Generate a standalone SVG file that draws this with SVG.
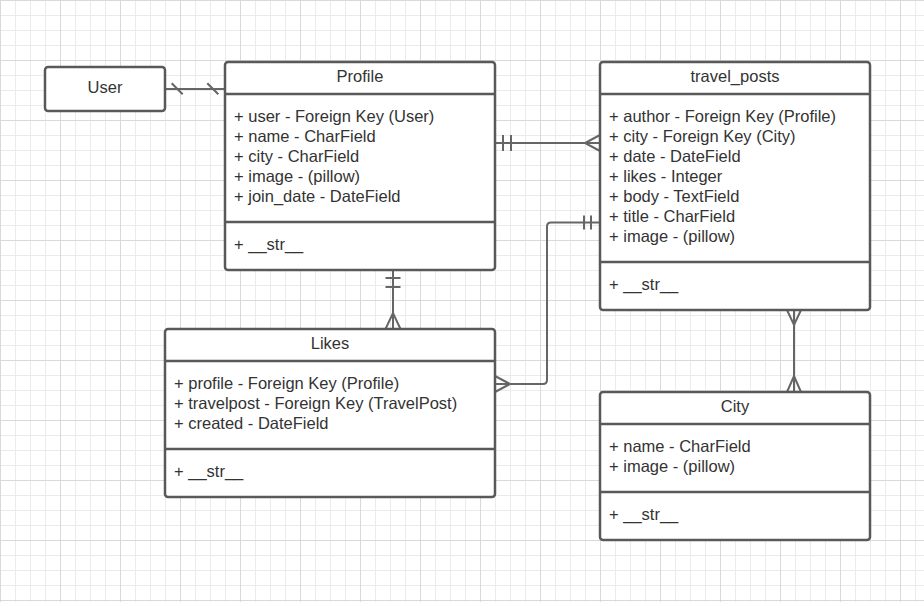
<svg xmlns="http://www.w3.org/2000/svg" width="924" height="602" viewBox="0 0 924 602">
  <defs>
    <pattern id="grid" width="60" height="60" patternUnits="userSpaceOnUse">
      <path d="M15.5 0V60M30.5 0V60M45.5 0V60M0 15.5H60M0 30.5H60M0 45.5H60" stroke="#ebebeb" stroke-width="1" fill="none"/>
      <path d="M0.5 0V60M0 0.5H60" stroke="#d9d9d9" stroke-width="1" fill="none"/>
    </pattern>
    <style>
      .box{fill:#ffffff;stroke:#595959;stroke-width:2.5}
      .div{stroke:#595959;stroke-width:2.5;fill:none}
      .t{font-family:"Liberation Sans",Arial,sans-serif;font-size:16.5px;fill:#333333}
      .c{text-anchor:middle}
      .con{stroke:#666666;stroke-width:2;fill:none}
    </style>
  </defs>
  <rect width="924" height="602" fill="#ffffff"/>
  <rect width="924" height="602" fill="url(#grid)"/>

  <g id="connectors">
    <!-- User - Profile -->
    <path class="con" d="M165 89H225"/>
    <path class="con" d="M171.7 83.3L182.7 94.3M207.3 83.3L218.3 94.3"/>
    <!-- Profile - travel_posts -->
    <path class="con" d="M495 143H600"/>
    <path class="con" d="M503 135V151M511 135V151"/>
    <path class="con" d="M600 135L585 143L600 151"/>
    <!-- travel_posts - Likes -->
    <path class="con" d="M600 222.5H551Q547 222.5 547 226.5V380Q547 384 543 384H495"/>
    <path class="con" d="M584 215.5V229.5M591 215.5V229.5"/>
    <path class="con" d="M495 376L510 384L495 392"/>
    <!-- Profile - Likes -->
    <path class="con" d="M393 270V329"/>
    <path class="con" d="M385.5 278H400.5M385.5 287H400.5"/>
    <path class="con" d="M385.5 329L393 313L400.5 329"/>
    <!-- travel_posts - City -->
    <path class="con" d="M794 310V392"/>
    <path class="con" d="M787 310L794 325L801 310"/>
    <path class="con" d="M787 392L794 376L801 392"/>
  </g>

  <g id="user">
    <rect class="box" x="45" y="67" width="120" height="44" rx="3"/>
    <text class="t c" x="105" y="92.5">User</text>
  </g>

  <g id="profile">
    <rect class="box" x="225" y="62" width="270" height="208" rx="3"/>
    <path class="div" d="M225 94H495M225 222H495"/>
    <text class="t c" x="360" y="81.5">Profile</text>
    <text class="t" x="234" y="121.5">+ user - Foreign Key (User)</text>
    <text class="t" x="234" y="141.5">+ name - CharField</text>
    <text class="t" x="234" y="161.5">+ city - CharField</text>
    <text class="t" x="234" y="181.5">+ image - (pillow)</text>
    <text class="t" x="234" y="201.5">+ join_date - DateField</text>
    <text class="t" x="234" y="249.5">+ __str__</text>
  </g>

  <g id="travel_posts">
    <rect class="box" x="600" y="62" width="270" height="248" rx="3"/>
    <path class="div" d="M600 94H870M600 262H870"/>
    <text class="t c" x="735" y="81.5">travel_posts</text>
    <text class="t" x="609" y="121.5">+ author - Foreign Key (Profile)</text>
    <text class="t" x="609" y="141.5">+ city - Foreign Key (City)</text>
    <text class="t" x="609" y="161.5">+ date - DateField</text>
    <text class="t" x="609" y="181.5">+ likes - Integer</text>
    <text class="t" x="609" y="201.5">+ body - TextField</text>
    <text class="t" x="609" y="221.5">+ title - CharField</text>
    <text class="t" x="609" y="241.5">+ image - (pillow)</text>
    <text class="t" x="609" y="289.5">+ __str__</text>
  </g>

  <g id="likes">
    <rect class="box" x="165" y="329" width="330" height="168" rx="3"/>
    <path class="div" d="M165 361H495M165 449H495"/>
    <text class="t c" x="330" y="348.5">Likes</text>
    <text class="t" x="174" y="388.5">+ profile - Foreign Key (Profile)</text>
    <text class="t" x="174" y="408.5">+ travelpost - Foreign Key (TravelPost)</text>
    <text class="t" x="174" y="428.5">+ created - DateField</text>
    <text class="t" x="174" y="476.5">+ __str__</text>
  </g>

  <g id="city">
    <rect class="box" x="600" y="392" width="270" height="148" rx="3"/>
    <path class="div" d="M600 424H870M600 492H870"/>
    <text class="t c" x="735" y="411.5">City</text>
    <text class="t" x="609" y="451.5">+ name - CharField</text>
    <text class="t" x="609" y="471.5">+ image - (pillow)</text>
    <text class="t" x="609" y="519.5">+ __str__</text>
  </g>
</svg>
